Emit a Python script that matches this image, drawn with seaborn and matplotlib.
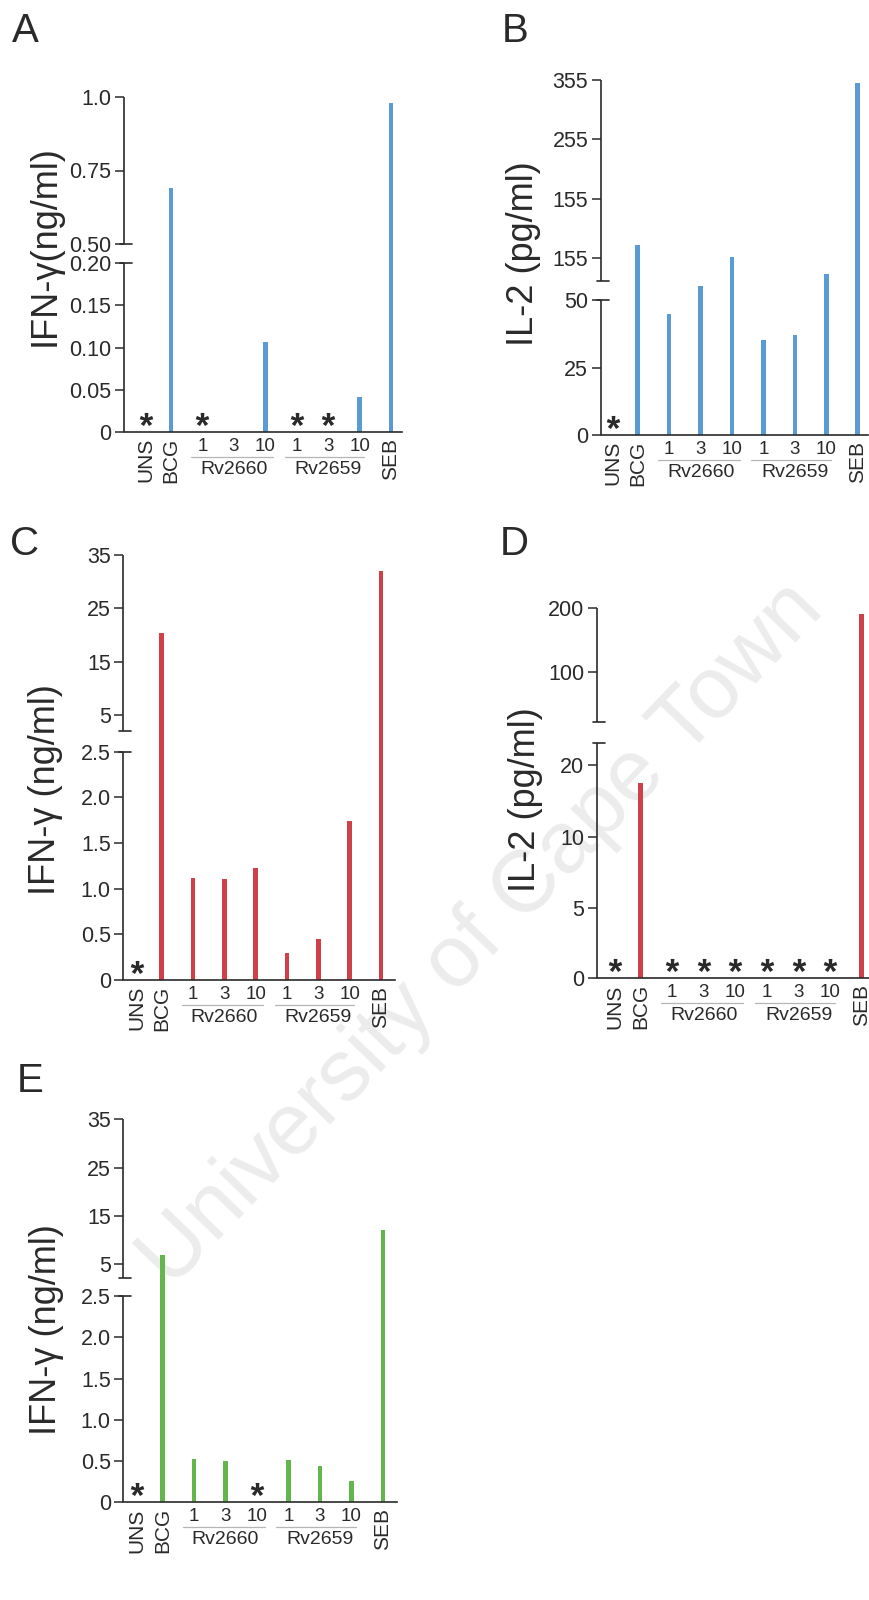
import numpy as np
import pandas as pd
import matplotlib
matplotlib.use("Agg")
import matplotlib.pyplot as plt
import matplotlib.transforms as mtransforms
from matplotlib.textpath import TextPath
from matplotlib.font_manager import FontProperties
from matplotlib.path import Path
import seaborn as sns

# ---------------- data ----------------
categories = ["UNS", "BCG", "1", "3", "10", "1", "3", "10", "SEB"]
group_names = ["Rv2660", "Rv2659"]

ifng_A = [0, 0.69, 0, 0, 0.107, 0, 0, 0.041, 0.98]
star_A = [1, 0, 1, 0, 0, 1, 1, 0, 0]
il2_B = [0, 76.9, 44.8, 51.7, 56.2, 35.2, 37.0, 53.1, 350.5]
star_B = [1, 0, 0, 0, 0, 0, 0, 0, 0]
ifng_C = [0, 20.3, 1.12, 1.11, 1.23, 0.30, 0.45, 1.74, 32.0]
star_C = [1, 0, 0, 0, 0, 0, 0, 0, 0]
il2_D = [0, 17.5, 0, 0, 0, 0, 0, 0, 190.5]
star_D = [1, 0, 1, 1, 1, 1, 1, 1, 0]
ifng_E = [0, 6.92, 0.52, 0.50, 0, 0.51, 0.44, 0.26, 12.1]
star_E = [1, 0, 0, 0, 1, 0, 0, 0, 0]

ticks_A = [0, 0.05, 0.1, 0.15, 0.2, 0.5, 0.75, 1.0]
tlab_A = ["0", "0.05", "0.10", "0.15", "0.20", "0.50", "0.75", "1.0"]
ticks_B = [0, 25, 50, 55, 155, 255, 355]
tlab_B = ["0", "25", "50", "155", "155", "255", "355"]
ticks_CE = [0, 0.5, 1.0, 1.5, 2.0, 2.5, 5, 15, 25, 35]
tlab_CE = ["0", "0.5", "1.0", "1.5", "2.0", "2.5", "5", "15", "25", "35"]
ticks_D = [0, 5, 10, 20, 100, 200]
tlab_D = ["0", "5", "10", "20", "100", "200"]

# ---------------- style / layout ----------------
sns.set_style("white")
plt.rcParams["font.family"] = ["Liberation Sans", "DejaVu Sans"]
INK = "#2a2a2a"
BLUE, RED, GREEN = "#5b9bd5", "#cf4049", "#62b64c"
W, H = 870, 1600
xpos = [0.2, 1, 2, 3, 4, 5, 6, 7, 8]
bar_w = 0.145
STAR_LIFT_PX = 13

panels = [
    dict(vals=ifng_A, stars=star_A, ticks=ticks_A, tlab=tlab_A, color=BLUE,
         box=(124, 97, 402, 432), d=[0, 0.2, 0.5, 1.0], h=[0, 169, 188, 335],
         brk=(169, 188), xlim=(-0.495, 8.35), ylabel="IFN-γ(ng/ml)",
         ylpos=(55, 246), letter="A", lpos=(12, 42)),
    dict(vals=il2_B, stars=star_B, ticks=ticks_B, tlab=tlab_B, color=BLUE,
         box=(600.7, 80, 868, 435), d=[0, 50, 55, 355], h=[0, 135, 177, 355],
         brk=(135, 154), xlim=(-0.18, 8.33), ylabel="IL-2 (pg/ml)",
         ylpos=(533, 254), letter="B", lpos=(502, 42)),
    dict(vals=ifng_C, stars=star_C, ticks=ticks_CE, tlab=tlab_CE, color=RED,
         box=(123.3, 555, 395, 980), d=[0, 2.5, 5, 35], h=[0, 228.3, 265, 425],
         brk=(228.3, 249), xlim=(-0.225, 8.45), ylabel="IFN-γ (ng/ml)",
         ylpos=(55, 790), letter="C", lpos=(10, 555)),
    dict(vals=il2_D, stars=star_D, ticks=ticks_D, tlab=tlab_D, color=RED,
         box=(596.7, 608.3, 869, 978.3), d=[0, 5, 10, 20, 23.1, 100, 200],
         h=[0, 70.6, 141.6, 213.3, 235.6, 306.6, 370],
         brk=(235.6, 256.6), xlim=(-0.39, 8.23), ylabel="IL-2 (pg/ml)",
         ylpos=(535, 800), letter="D", lpos=(500, 555)),
    dict(vals=ifng_E, stars=star_E, ticks=ticks_CE, tlab=tlab_CE, color=GREEN,
         box=(123.3, 1119.3, 396.7, 1502.3), d=[0, 2.5, 5, 35], h=[0, 206.3, 238, 383],
         brk=(206.3, 224), xlim=(-0.24, 8.44), ylabel="IFN-γ (ng/ml)",
         ylpos=(56, 1330), letter="E", lpos=(17, 1092)),
]


def piecewise(dpts, hpts):
    d = np.asarray(dpts, float)
    h = np.asarray(hpts, float)
    s0 = (h[1] - h[0]) / (d[1] - d[0])
    s1 = (h[-1] - h[-2]) / (d[-1] - d[-2])
    big = 1e6
    d_ext = np.concatenate([[d[0] - big], d, [d[-1] + big]])
    h_ext = np.concatenate([[h[0] - big * s0], h, [h[-1] + big * s1]])

    def fwd(y):
        return np.interp(np.asarray(y, float), d_ext, h_ext)

    def inv(v):
        return np.interp(np.asarray(v, float), h_ext, d_ext)

    return fwd, inv


# asterisk glyph as a marker (same shape as the font's "*")
_tp = TextPath((0, 0), "*", prop=FontProperties(family="Liberation Sans", weight="bold"), size=1)
_polys = _tp.to_polygons(closed_only=True)
_allv = np.vstack(_polys)
_ctr = (_allv.min(axis=0) + _allv.max(axis=0)) / 2
STAR = Path.make_compound_path(*[Path(pv - _ctr, closed=True) for pv in _polys])

fig = plt.figure(figsize=(W / 100, H / 100), dpi=100)
fig.patch.set_facecolor("white")

# watermark
fig.text(482 / W, 1 - 935 / H, "University of Cape Town", rotation=46,
         ha="center", va="center", fontsize=63, color="#ececec", zorder=-5)


for p in panels:
    l, t, r, b = p["box"]
    ax = fig.add_axes([l / W, 1 - b / H, (r - l) / W, (b - t) / H])
    ax.patch.set_alpha(0)
    df = pd.DataFrame({"pos": xpos, "value": p["vals"]})
    native = np.min(np.diff(sorted(xpos)))
    sns.barplot(data=df, x="pos", y="value", native_scale=True,
                width=bar_w / native, color=p["color"], saturation=1,
                errorbar=None, linewidth=0, ax=ax)
    fwd, inv = piecewise(p["d"], p["h"])
    ax.set_yscale("function", functions=(fwd, inv))
    ymax = p["d"][-1]

    # stars (not detected)
    sx = [xpos[i] for i, s in enumerate(p["stars"]) if s]
    sy = [float(inv(STAR_LIFT_PX))] * len(sx)
    sns.scatterplot(x=sx, y=sy, marker=STAR, s=95, color=INK, linewidth=0,
                    ax=ax, clip_on=False, zorder=5)

    ax.set_ylim(0, ymax)
    ax.set_xlim(*p["xlim"])
    ax.set_xlabel("")
    ax.set_ylabel("")

    # spines
    for s in ["top", "right", "left"]:
        ax.spines[s].set_visible(False)
    ax.spines["bottom"].set_linewidth(1.2)
    ax.spines["bottom"].set_color(INK)
    lo = float(inv(p["brk"][0]))
    hi = float(inv(p["brk"][1]))
    yt = ax.get_yaxis_transform()
    ax.plot([0, 0], [0, lo], transform=yt, color=INK, lw=1.2, clip_on=False,
            solid_capstyle="butt")
    ax.plot([0, 0], [hi, ymax], transform=yt, color=INK, lw=1.2, clip_on=False,
            solid_capstyle="butt")
    axw = r - l
    for yv in (lo, hi):
        ax.plot([-4 / axw, 8 / axw], [yv, yv], transform=yt,
                color=INK, lw=1.2, clip_on=False)

    # y ticks
    ax.set_yticks(p["ticks"], p["tlab"])
    ax.minorticks_off()
    ax.tick_params(axis="y", length=6.5, width=1.1, color=INK, labelcolor=INK,
                   labelsize=15.5, pad=2.5, direction="out", left=True)

    # x ticks
    ax.set_xticks(xpos, categories)
    ax.tick_params(axis="x", length=0, pad=4.2, labelsize=13.5, labelcolor=INK,
                   bottom=True)
    for i, lab in enumerate(ax.get_xticklabels()):
        if categories[i] in ("UNS", "BCG", "SEB"):
            lab.set_rotation(90)
            lab.set_va("top")
            lab.set_ha("center")
            lab.set_fontsize(15)

    # group labels
    xt = ax.get_xaxis_transform()
    line_off = mtransforms.ScaledTranslation(0, -25 / 100, fig.dpi_scale_trans)
    text_off = mtransforms.ScaledTranslation(0, -42 / 100, fig.dpi_scale_trans)
    for (x0, x1, xc), name in zip([(1.65, 4.25, 3), (4.62, 7.15, 6)], group_names):
        ax.plot([x0, x1], [0, 0], transform=xt + line_off, color="#b5b5b5",
                lw=0.9, clip_on=False)
        ax.text(xc, 0, name, transform=xt + text_off, ha="center",
                va="baseline", fontsize=14, color=INK)

    # y label & panel letter
    fig.text(p["ylpos"][0] / W, 1 - p["ylpos"][1] / H, p["ylabel"], rotation=90,
             rotation_mode="anchor", ha="center", va="baseline", fontsize=26,
             color=INK)
    fig.text(p["lpos"][0] / W, 1 - p["lpos"][1] / H, p["letter"], ha="left",
             va="baseline", fontsize=29, color=INK)

fig.savefig("out.png", dpi=100, facecolor="white")
